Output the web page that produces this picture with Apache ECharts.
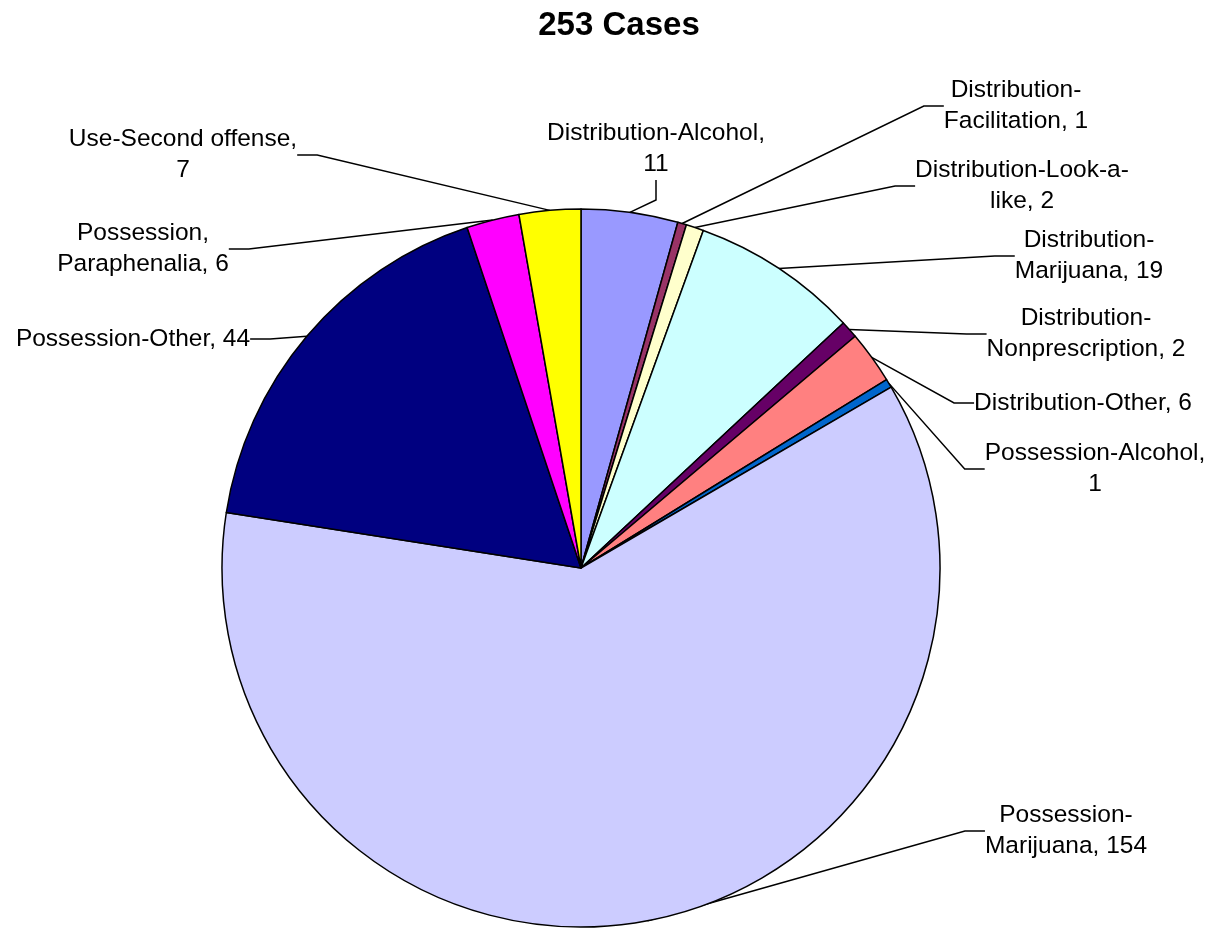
<!DOCTYPE html>
<html>
<head>
<meta charset="utf-8">
<title>253 Cases</title>
<script src="https://cdn.jsdelivr.net/npm/echarts@6/dist/echarts.min.js"></script>
<style>
  html, body { margin: 0; padding: 0; background: #fff; }
  #chart { width: 1213px; height: 928px; }
</style>
</head>
<body>
<div id="chart"></div>
<script>
// categories, clockwise from 12 o'clock
var categories = [
  'Distribution-Alcohol',
  'Distribution-Facilitation',
  'Distribution-Look-a-like',
  'Distribution-Marijuana',
  'Distribution-Nonprescription',
  'Distribution-Other',
  'Possession-Alcohol',
  'Possession-Marijuana',
  'Possession-Other',
  'Possession, Paraphenalia',
  'Use-Second offense'
]
var values = [11, 1, 2, 19, 2, 6, 1, 154, 44, 6, 7]
// how each label wraps in the picture
var labelText = [
  'Distribution-Alcohol,\n11',
  'Distribution-\nFacilitation, 1',
  'Distribution-Look-a-\nlike, 2',
  'Distribution-\nMarijuana, 19',
  'Distribution-\nNonprescription, 2',
  'Distribution-Other, 6',
  'Possession-Alcohol,\n1',
  'Possession-\nMarijuana, 154',
  'Possession-Other, 44',
  'Possession,\nParaphenalia, 6',
  'Use-Second offense,\n7'
]
var colors = ['#9999FF', '#993366', '#FFFFCC', '#CCFFFF', '#660066', '#FF8080',
  '#0066CC', '#CCCCFF', '#000080', '#FF00FF', '#FFFF00']

// label centres (layout only)
var labelPos = [
  [656, 149], [1016, 106], [1022, 186], [1089, 256], [1086, 334], [1083, 403],
  [1095, 469], [1066, 831], [133, 339], [143, 249], [183, 155]
]

var chart = echarts.init(document.getElementById('chart'))

chart.setOption({
  animation: false,
  backgroundColor: '#fff',
  title: {
    text: '253 Cases',
    left: 614,
    top: 4,
    textAlign: 'center',
    textStyle: {
      fontFamily: 'Liberation Sans',
      fontWeight: 'bold',
      fontSize: 33,
      color: '#000'
    }
  },
  series: [{
    type: 'pie',
    center: [581, 568],
    radius: 359,
    startAngle: 90,
    clockwise: true,
    avoidLabelOverlap: false,
    data: values.map(function (v, i) {
      return { name: categories[i], value: v, itemStyle: { color: colors[i] } }
    }),
    itemStyle: {
      borderColor: '#000',
      borderWidth: 1.5
    },
    label: {
      show: true,
      formatter: function (p) { return labelText[p.dataIndex] },
      fontFamily: 'Liberation Sans',
      fontSize: 24.5,
      lineHeight: 31,
      color: '#000',
      align: 'center'
    },
    labelLine: {
      show: true,
      length: 20,
      length2: 20,
      lineStyle: { color: '#000', width: 1.5 }
    },
    labelLayout: function (params) {
      var p = labelPos[params.dataIndex]
      return {
        x: p[0],
        y: p[1],
        align: 'center',
        verticalAlign: 'middle'
      }
    },
    emphasis: { disabled: true }
  }]
})
</script>
</body>
</html>
